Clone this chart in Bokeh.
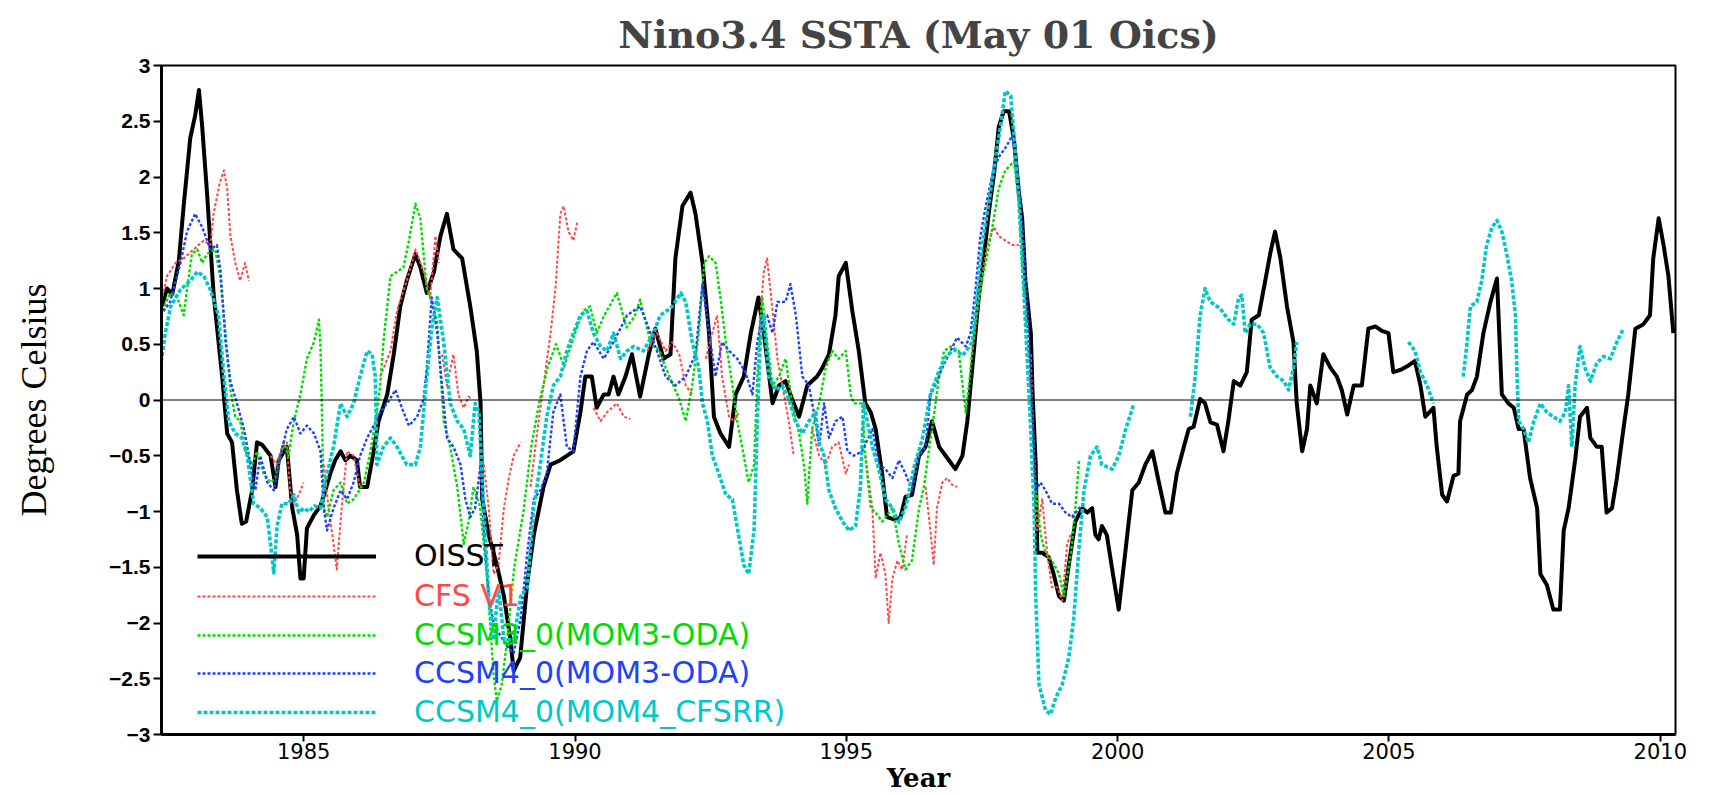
import math
from bokeh.plotting import figure
from bokeh.models import Range1d, FixedTicker, Span, Legend, LegendItem
from bokeh.embed import file_html
from bokeh.resources import INLINE

NAN = float("nan")

TITLE = "Nino3.4 SSTA (May 01 Oics)"
X_LABEL = "Year"
Y_LABEL = "Degrees Celsius"
X_TICKS = [1985, 1990, 1995, 2000, 2005, 2010]
Y_TICKS = [-3.0, -2.5, -2.0, -1.5, -1.0, -0.5, 0.0, 0.5, 1.0, 1.5, 2.0, 2.5, 3.0]
Y_TICK_LABELS = ["\u22123", "\u22122.5", "\u22122", "\u22121.5", "\u22121", "\u22120.5",
                 "0", "0.5", "1", "1.5", "2", "2.5", "3"]
SERIES_NAMES = ["OISST", "CFS V1", "CCSM3_0(MOM3-ODA)", "CCSM4_0(MOM3-ODA)", "CCSM4_0(MOM4_CFSRR)"]

# ---------------- OISST (observed) ----------------
OISST_YEAR = [
    1982.39, 1982.48, 1982.58, 1982.70, 1982.79, 1982.91, 1983.00, 1983.07, 1983.13, 1983.22,
    1983.34, 1983.50, 1983.59, 1983.68, 1983.77, 1983.86, 1983.94,
    1984.05, 1984.14, 1984.23, 1984.39, 1984.48, 1984.54, 1984.69, 1984.79, 1984.88, 1984.94,
    1985.00, 1985.06, 1985.19, 1985.31, 1985.40, 1985.49, 1985.58, 1985.68, 1985.77, 1985.86, 1985.98,
    1986.04, 1986.17, 1986.29, 1986.38, 1986.54, 1986.66, 1986.78, 1986.90, 1987.06, 1987.15,
    1987.27, 1987.40, 1987.52, 1987.64, 1987.76, 1987.92,
    1988.07, 1988.19, 1988.26, 1988.29, 1988.41, 1988.56, 1988.69, 1988.81, 1988.87, 1988.99,
    1989.12, 1989.24, 1989.42, 1989.55, 1989.73, 1989.97,
    1990.10, 1990.19, 1990.31, 1990.40, 1990.53, 1990.62, 1990.71, 1990.80, 1990.93, 1991.05,
    1991.20, 1991.36, 1991.48, 1991.63, 1991.76, 1991.85, 1991.98,
    1992.13, 1992.22, 1992.35, 1992.47, 1992.56, 1992.68, 1992.84, 1992.96, 1993.11, 1993.24,
    1993.38, 1993.48, 1993.64, 1993.76, 1993.88,
    1994.00, 1994.13, 1994.28, 1994.46, 1994.56, 1994.68, 1994.80, 1994.86, 1994.99, 1995.11,
    1995.23, 1995.35, 1995.45, 1995.54, 1995.66, 1995.75, 1995.88,
    1996.00, 1996.09, 1996.21, 1996.34, 1996.46, 1996.58, 1996.71, 1996.83, 1997.01, 1997.14,
    1997.23, 1997.29, 1997.35, 1997.44, 1997.54, 1997.63, 1997.72, 1997.81, 1997.90,
    1998.00, 1998.09, 1998.18, 1998.24, 1998.30, 1998.40, 1998.43, 1998.49, 1998.52, 1998.61,
    1998.73, 1998.82, 1998.92, 1999.01, 1999.10, 1999.22, 1999.35, 1999.44, 1999.53, 1999.59,
    1999.65, 1999.71, 1999.80, 1999.90,
    2000.02, 2000.14, 2000.27, 2000.39, 2000.51, 2000.64, 2000.76, 2000.88, 2000.98, 2001.09,
    2001.22, 2001.31, 2001.40, 2001.52, 2001.61, 2001.71, 2001.83, 2001.95,
    2002.04, 2002.14, 2002.26, 2002.38, 2002.47, 2002.60, 2002.72, 2002.81, 2002.90, 2003.00,
    2003.12, 2003.24, 2003.30, 2003.40, 2003.49, 2003.55, 2003.67, 2003.79, 2003.92,
    2004.04, 2004.13, 2004.23, 2004.35, 2004.50, 2004.62, 2004.75, 2004.87, 2004.99, 2005.08,
    2005.21, 2005.36, 2005.48, 2005.58, 2005.67, 2005.82, 2005.88, 2005.98,
    2006.07, 2006.19, 2006.28, 2006.31, 2006.44, 2006.53, 2006.62, 2006.74, 2006.87, 2006.99,
    2007.08, 2007.20, 2007.30, 2007.39, 2007.48, 2007.60, 2007.73, 2007.79, 2007.91,
    2008.03, 2008.15, 2008.22, 2008.31, 2008.43, 2008.52, 2008.65, 2008.71, 2008.83, 2008.92,
    2009.01, 2009.11, 2009.20, 2009.32, 2009.41, 2009.54, 2009.69, 2009.81, 2009.87, 2009.97,
    2010.06, 2010.15, 2010.24,
]
OISST_VAL = [
    0.84, 1.00, 0.95, 1.25, 1.75, 2.35, 2.55, 2.78, 2.45, 1.85,
    0.95, 0.20, -0.30, -0.38, -0.81, -1.11, -1.09,
    -0.81, -0.38, -0.40, -0.50, -0.78, -0.54, -0.42, -0.97, -1.21, -1.60,
    -1.60, -1.15, -1.03, -0.95, -0.81, -0.66, -0.54, -0.46, -0.54, -0.50, -0.54,
    -0.78, -0.78, -0.46, -0.19, 0.05, 0.41, 0.84, 1.07, 1.31, 1.19,
    0.96, 1.15, 1.47, 1.67, 1.35, 1.27,
    0.84, 0.44, -0.03, -0.89, -1.21, -1.48, -1.76, -2.15, -2.43, -2.31,
    -1.64, -1.21, -0.78, -0.58, -0.54, -0.46,
    -0.11, 0.21, 0.21, -0.07, 0.05, 0.05, 0.21, 0.05, 0.21, 0.41,
    0.03, 0.41, 0.64, 0.37, 0.41, 1.27, 1.74,
    1.86, 1.67, 1.23, 0.60, -0.15, -0.30, -0.42, 0.05, 0.21, 0.60,
    0.92, 0.60, -0.03, 0.13, 0.17,
    0.01, -0.15, 0.13, 0.21, 0.29, 0.41, 0.76, 1.11, 1.23, 0.80,
    0.44, -0.03, -0.11, -0.26, -0.66, -1.05, -1.07,
    -1.05, -0.87, -0.85, -0.50, -0.42, -0.19, -0.42, -0.50, -0.62, -0.50,
    -0.19, 0.13, 0.44, 0.92, 1.31, 1.70, 2.02, 2.45, 2.59,
    2.59, 2.33, 1.86, 1.63, 1.07, 0.60, 0.09, -0.58, -1.37, -1.37,
    -1.41, -1.56, -1.76, -1.80, -1.48, -1.09, -0.97, -1.01, -0.97, -1.21,
    -1.25, -1.13, -1.21, -1.52,
    -1.88, -1.37, -0.81, -0.74, -0.58, -0.46, -0.74, -1.01, -1.01, -0.66,
    -0.42, -0.26, -0.24, 0.01, -0.03, -0.20, -0.22, -0.46,
    -0.19, 0.17, 0.13, 0.25, 0.72, 0.76, 1.07, 1.31, 1.51, 1.27,
    0.84, 0.52, -0.03, -0.46, -0.26, 0.13, -0.03, 0.41, 0.29,
    0.21, 0.09, -0.13, 0.13, 0.13, 0.64, 0.66, 0.62, 0.60, 0.25,
    0.27, 0.31, 0.35, 0.13, -0.15, -0.07, -0.42, -0.85,
    -0.91, -0.68, -0.66, -0.19, 0.05, 0.09, 0.21, 0.60, 0.88, 1.09,
    0.05, -0.03, -0.07, -0.26, -0.26, -0.70, -0.97, -1.56, -1.66,
    -1.88, -1.88, -1.17, -0.97, -0.54, -0.15, -0.07, -0.34, -0.42, -0.42,
    -1.01, -0.97, -0.70, -0.26, 0.05, 0.64, 0.68, 0.76, 1.27, 1.63,
    1.39, 1.11, 0.60,
]

# ---------------- CFS V1 (segments separated by NaN) ----------------
CFS_YEAR = [
    1982.36, 1982.48, 1982.64, 1982.79, 1982.97, 1983.16, 1983.28, 1983.34, 1983.45, 1983.53,
    1983.59, 1983.65, 1983.74, 1983.83, 1983.92, 1983.99, NAN,
    1984.39, 1984.50, 1984.60, 1984.69, 1984.75, 1984.82, 1984.91, 1985.00, NAN,
    1985.37, 1985.46, 1985.55, 1985.61, 1985.70, 1985.80, 1985.92, 1986.04, NAN,
    1986.41, 1986.60, 1986.72, 1986.90, 1987.06, 1987.21, 1987.33, 1987.43, 1987.49, NAN,
    1987.55, 1987.64, 1987.76, 1987.85, 1987.95, 1988.04, 1988.10, NAN,
    1988.32, 1988.41, 1988.50, 1988.59, 1988.69, 1988.78, 1988.87, 1989.00, NAN,
    1989.18, 1989.30, 1989.42, 1989.55, 1989.64, 1989.73, 1989.79, 1989.88, 1989.97, 1990.04, NAN,
    1990.34, 1990.47, 1990.59, 1990.77, 1990.90, 1991.02, NAN,
    1991.33, 1991.51, 1991.67, 1991.79, 1991.92, 1992.04, 1992.16, NAN,
    1992.41, 1992.53, 1992.62, 1992.71, 1992.84, 1992.93, 1993.02, NAN,
    1993.39, 1993.48, 1993.54, 1993.64, 1993.73, 1993.82, 1993.94, 1994.03, NAN,
    1994.37, 1994.50, 1994.62, 1994.74, 1994.86, 1994.99, 1995.05, NAN,
    1995.35, 1995.48, 1995.54, 1995.63, 1995.72, 1995.78, 1995.85, 1995.94, 1996.03, 1996.12, NAN,
    1996.46, 1996.55, 1996.61, 1996.67, 1996.77, 1996.86, 1996.95, 1997.04, NAN,
    1997.32, 1997.41, 1997.50, 1997.60, 1997.72, 1997.81, 1997.93, 1998.06, 1998.18, NAN,
    1998.40, 1998.46, 1998.52, 1998.61, 1998.70, 1998.79, 1998.89, 1998.98, 1999.07, 1999.13,
]
CFS_VAL = [
    0.84, 1.11, 1.23, 1.27, 1.35, 1.43, 1.39, 1.67, 1.94, 2.06,
    1.90, 1.47, 1.23, 1.07, 1.23, 1.07, NAN,
    -0.50, -0.58, -0.42, -0.38, -0.81, -0.93, -0.85, -0.74, NAN,
    -0.58, -0.97, -1.29, -1.52, -0.97, -0.46, -0.50, -0.78, NAN,
    0.21, 0.44, 0.80, 1.07, 1.35, 1.15, 0.92, 1.47, 1.23, NAN,
    0.41, 0.13, 0.41, 0.05, -0.07, 0.03, 0.00, NAN,
    -0.58, -0.97, -1.56, -1.48, -0.97, -0.70, -0.50, -0.38, NAN,
    -0.78, -0.30, 0.13, 0.60, 1.00, 1.67, 1.74, 1.51, 1.43, 1.59, NAN,
    -0.07, -0.19, -0.11, -0.03, -0.15, -0.17, NAN,
    0.44, 0.60, 0.44, 0.52, 0.41, 0.13, 0.05, NAN,
    0.37, 0.60, 0.76, 0.21, -0.15, -0.19, -0.11, NAN,
    0.60, 1.15, 1.27, 0.80, 0.37, 0.13, -0.19, -0.50, NAN,
    -0.26, -0.50, -0.58, -0.42, -0.38, -0.66, -0.58, NAN,
    -0.50, -0.97, -1.60, -1.37, -1.56, -2.00, -1.60, -1.44, -1.52, -1.20, NAN,
    -0.78, -1.17, -1.48, -0.97, -0.74, -0.70, -0.76, -0.78, NAN,
    0.41, 0.76, 1.11, 1.39, 1.55, 1.47, 1.43, 1.39, 1.39, NAN,
    0.41, -0.58, -1.17, -0.89, -1.37, -1.68, -1.68, -1.80, -1.29, -1.21,
]

# ---------------- CCSM3_0 (MOM3-ODA) ----------------
CCSM3_YEAR = [
    1982.36, 1982.54, 1982.67, 1982.79, 1982.85, 1982.94, 1983.04, 1983.13, 1983.22, 1983.37,
    1983.46, 1983.56, 1983.65, 1983.74, 1983.83, 1983.93, 1984.05, 1984.14, 1984.26, 1984.39,
    1984.48, 1984.63, 1984.72, 1984.82, 1984.94, 1985.06, 1985.19, 1985.28, 1985.31, 1985.34,
    1985.37, 1985.43, 1985.55, 1985.68, 1985.80, 1985.92, 1986.11, 1986.23, 1986.35, 1986.41,
    1986.47, 1986.60, 1986.72, 1986.84, 1986.94, 1987.06, 1987.15, 1987.21, 1987.27, 1987.36,
    1987.46, 1987.58, 1987.70, 1987.83, 1987.95, 1988.04, 1988.13, 1988.25, 1988.38, 1988.50,
    1988.56, 1988.65, 1988.75, 1988.88, 1989.05, 1989.20, 1989.35, 1989.50, 1989.65, 1989.80,
    1990.00, 1990.15, 1990.28, 1990.40, 1990.53, 1990.77, 1990.95, 1991.10, 1991.20, 1991.40,
    1991.55, 1991.67, 1991.92, 1992.04, 1992.16, 1992.28, 1992.38, 1992.47, 1992.59, 1992.68,
    1992.78, 1992.90, 1992.99, 1993.08, 1993.20, 1993.30, 1993.36, 1993.45, 1993.54, 1993.64,
    1993.76, 1993.88, 1994.00, 1994.13, 1994.22, 1994.28, 1994.37, 1994.50, 1994.62, 1994.74,
    1994.86, 1994.99, 1995.08, 1995.14, 1995.29, 1995.35, 1995.45, 1995.54, 1995.66, 1995.85,
    1995.97, 1996.09, 1996.21, 1996.34, 1996.43, 1996.52, 1996.61, 1996.71, 1996.80, 1996.92,
    1997.07, 1997.20, 1997.26, 1997.35, 1997.47, 1997.60, 1997.72, 1997.81, 1997.93, 1998.09,
    1998.18, 1998.27, 1998.36, 1998.43, 1998.49, 1998.58, 1998.67, 1998.79, 1998.92, 1999.01,
    1999.14, 1999.22, 1999.29,
]
CCSM3_VAL = [
    0.76, 0.96, 0.92, 0.76, 0.99, 1.31, 1.35, 1.23, 1.31, 1.35,
    1.11, 0.60, 0.09, -0.15, -0.19, -0.46, -0.58, -0.46, -0.66, -0.74,
    -0.70, -0.38, -0.50, -0.19, 0.05, 0.37, 0.52, 0.72, 0.48, -0.19,
    -0.97, -1.05, -0.81, -0.74, -0.93, -0.89, -0.74, -0.46, -0.11, 0.13,
    0.52, 1.11, 1.15, 1.19, 1.43, 1.76, 1.63, 1.31, 0.99, 0.88,
    0.70, -0.19, -0.42, -0.78, -1.29, -1.09, -0.78, -0.95, -1.60, -2.47,
    -2.70, -2.55, -2.15, -1.50, -1.00, -0.40, 0.00, 0.30, 0.50, 0.30,
    0.60, 0.80, 0.84, 0.60, 0.75, 0.96, 0.65, 0.75, 0.90, 0.50,
    0.45, 0.29, 0.01, -0.19, 0.13, 0.60, 1.23, 1.29, 1.23, 0.92,
    0.52, 0.13, -0.19, -0.42, -0.74, -0.58, 0.21, 0.92, 0.52, 0.13,
    0.21, 0.37, -0.03, -0.30, -0.58, -0.93, -0.26, -0.03, 0.29, 0.44,
    0.37, 0.44, 0.05, -0.03, -0.03, -0.50, -0.97, -1.01, -1.09, -0.97,
    -1.29, -1.52, -1.44, -0.97, -0.78, -0.46, -0.15, 0.21, 0.44, 0.48,
    0.44, -0.11, 0.13, 0.60, 0.99, 1.31, 1.63, 1.90, 2.06, 2.14,
    1.78, 0.99, 0.44, -0.19, -0.78, -1.21, -1.37, -1.44, -1.56, -1.76,
    -1.37, -0.97, -0.54,
]

# ---------------- CCSM4_0 (MOM3-ODA) ----------------
CCSM4O_YEAR = [
    1982.36, 1982.54, 1982.73, 1982.85, 1983.00, 1983.13, 1983.28, 1983.40, 1983.47, 1983.56,
    1983.65, 1983.77, 1983.90, 1984.02, 1984.11, 1984.20, 1984.33, 1984.45, 1984.57, 1984.69,
    1984.82, 1984.94, 1985.06, 1985.19, 1985.31, 1985.37, 1985.43, 1985.55, 1985.68, 1985.80,
    1985.92, 1986.04, 1986.17, 1986.29, 1986.41, 1986.54, 1986.69, 1986.81, 1986.94, 1987.09,
    1987.21, 1987.27, 1987.36, 1987.46, 1987.55, 1987.64, 1987.76, 1987.89, 1987.98, 1988.07,
    1988.16, 1988.26, 1988.32, 1988.41, 1988.50, 1988.62, 1988.78, 1988.87, 1989.00, 1989.12,
    1989.24, 1989.36, 1989.48, 1989.60, 1989.73, 1989.85, 1989.97, 1990.10, 1990.22, 1990.34,
    1990.53, 1990.71, 1990.96, 1991.20, 1991.33, 1991.51, 1991.67, 1991.85, 1992.04, 1992.22,
    1992.35, 1992.47, 1992.59, 1992.71, 1992.84, 1992.99, 1993.14, 1993.27, 1993.36, 1993.45,
    1993.54, 1993.64, 1993.73, 1993.88, 1993.97, 1994.07, 1994.19, 1994.31, 1994.43, 1994.50,
    1994.59, 1994.68, 1994.80, 1994.93, 1995.02, 1995.14, 1995.29, 1995.48, 1995.60, 1995.72,
    1995.85, 1995.97, 1996.09, 1996.21, 1996.34, 1996.46, 1996.55, 1996.64, 1996.77, 1996.89,
    1997.04, 1997.20, 1997.29, 1997.38, 1997.47, 1997.57, 1997.69, 1997.81, 1997.93, 1998.06,
    1998.18, 1998.27, 1998.36, 1998.43, 1998.49, 1998.58, 1998.67, 1998.79, 1998.92, 1999.04,
    1999.16, 1999.29, 1999.38,
]
CCSM4O_VAL = [
    0.76, 0.88, 1.23, 1.51, 1.67, 1.55, 1.35, 1.39, 1.15, 0.52,
    0.17, -0.03, -0.26, -0.58, -0.81, -0.50, -0.74, -0.81, -0.50, -0.26,
    -0.15, -0.30, -0.23, -0.30, -0.46, -0.97, -1.17, -0.97, -0.81, -0.89,
    -0.74, -0.50, -0.34, -0.23, -0.11, -0.03, 0.09, -0.07, -0.23, -0.15,
    0.01, 0.29, 0.92, 0.60, 0.13, -0.34, -0.42, -0.58, -0.89, -1.05,
    -0.97, -0.58, -1.17, -1.76, -2.00, -2.11, -2.23, -2.27, -1.96, -1.37,
    -0.89, -0.81, -0.66, -0.11, 0.05, -0.42, -0.46, 0.21, 0.44, 0.52,
    0.37, 0.52, 0.76, 0.84, 0.68, 0.44, 0.21, 0.13, 0.21, 0.41,
    1.04, 0.60, 0.21, 0.52, 0.44, 0.37, 0.25, 0.05, 0.52, 0.76,
    0.76, 0.60, 0.88, 0.88, 1.04, 0.76, 0.21, 0.13, -0.19, -0.42,
    -0.03, -0.34, -0.19, -0.15, -0.46, -0.50, -0.46, -0.26, -0.58, -0.62,
    -0.70, -0.54, -0.66, -0.81, -0.50, -0.42, 0.05, 0.13, 0.29, 0.41,
    0.56, 0.48, 0.60, 0.99, 1.47, 1.74, 2.02, 2.18, 2.26, 2.37,
    1.94, 1.39, 0.60, -0.19, -0.81, -0.74, -0.81, -0.93, -0.93, -1.01,
    -1.05, -0.97, -0.93,
]

# ---------------- CCSM4_0 (MOM4_CFSRR) ----------------
CCSM4C_YEAR = [
    1982.36, 1982.45, 1982.55, 1982.73, 1982.91, 1983.04, 1983.16, 1983.28, 1983.43, 1983.53,
    1983.62, 1983.74, 1983.86, 1983.96, 1984.08, 1984.20, 1984.33, 1984.45, 1984.51, 1984.60,
    1984.72, 1984.82, 1984.91, 1985.00, 1985.10, 1985.20, 1985.31, 1985.43, 1985.55, 1985.68,
    1985.80, 1985.92, 1986.04, 1986.17, 1986.26, 1986.32, 1986.35, 1986.47, 1986.60, 1986.72,
    1986.90, 1987.06, 1987.15, 1987.27, 1987.36, 1987.46, 1987.58, 1987.70, 1987.83, 1987.95,
    1988.07, 1988.16, 1988.23, 1988.32, 1988.41, 1988.50, 1988.59, 1988.69, 1988.87, 1989.00,
    1989.12, 1989.24, 1989.36, 1989.48, 1989.60, 1989.73, 1989.85, 1989.97, 1990.10, 1990.22,
    1990.34, 1990.47, 1990.59, 1990.71, 1990.84, 1990.96, 1991.08, 1991.26, 1991.45, 1991.57,
    1991.69, 1991.79, 1991.95, 1992.04, 1992.16, 1992.28, 1992.35, 1992.44, 1992.53, 1992.65,
    1992.78, 1992.90, 1993.00, 1993.11, 1993.20, 1993.30, 1993.36, 1993.42, 1993.48, 1993.57,
    1993.70, 1993.82, 1993.94, 1994.06, 1994.19, 1994.31, 1994.43, 1994.50, 1994.59, 1994.68,
    1994.80, 1994.93, 1995.05, 1995.17, 1995.26, 1995.32, 1995.48, 1995.60, 1995.72, 1995.85,
    1995.97, 1996.10, 1996.25, 1996.40, 1996.55, 1996.70, 1996.85, 1997.00, 1997.15, 1997.32,
    1997.41, 1997.50, 1997.63, 1997.75, 1997.84, 1997.93, 1998.03, 1998.09, 1998.18, 1998.27,
    1998.33, 1998.39, 1998.46, 1998.49, 1998.55, 1998.67, 1998.76, 1998.86, 1998.98, 1999.10,
    1999.19, 1999.28, 1999.38, 1999.50, 1999.62, 1999.71, 1999.90, 2000.02, 2000.15, 2000.30, NAN,
    2001.34, 2001.43, 2001.52, 2001.61, 2001.71, 2001.89, 2002.04, 2002.14, 2002.23, 2002.29,
    2002.35, 2002.44, 2002.57, 2002.69, 2002.81, 2002.94, 2003.06, 2003.15, 2003.24, 2003.30, NAN,
    2005.36, 2005.48, 2005.58, 2005.70, 2005.82, NAN,
    2006.37, 2006.44, 2006.50, 2006.62, 2006.71, 2006.80, 2006.90, 2006.99, 2007.08, 2007.17,
    2007.26, 2007.33, 2007.36, 2007.39, 2007.48, 2007.57, 2007.67, 2007.79, 2007.91, 2008.03,
    2008.15, 2008.25, 2008.31, 2008.37, 2008.43, 2008.52, 2008.61, 2008.71, 2008.83, 2008.95,
    2009.08, 2009.20, 2009.32,
]
CCSM4C_VAL = [
    0.29, 0.60, 0.84, 0.99, 1.07, 1.15, 1.11, 0.99, 0.76, 0.21,
    -0.19, -0.30, -0.34, -0.50, -0.93, -0.97, -1.05, -1.55, -1.13, -0.93,
    -0.93, -0.85, -1.01, -0.97, -1.00, -0.95, -0.97, -0.66, -0.42, -0.03,
    -0.15, -0.03, 0.21, 0.44, 0.41, 0.21, -0.58, -0.42, -0.34, -0.42,
    -0.58, -0.58, -0.42, 0.21, 0.64, 0.92, 0.52, -0.03, -0.19, -0.26,
    -0.50, -0.03, -0.11, -0.97, -1.76, -2.15, -1.68, -2.15, -2.15, -1.76,
    -1.68, -0.97, -0.58, -0.15, 0.13, 0.21, 0.44, 0.60, 0.76, 0.80,
    0.60, 0.48, 0.44, 0.60, 0.37, 0.44, 0.48, 0.44, 0.60, 0.76,
    0.80, 0.84, 0.96, 0.88, 0.52, 0.29, -0.03, -0.19, -0.50, -0.66,
    -0.85, -0.89, -1.17, -1.48, -1.56, -1.17, -0.19, 0.60, 0.76, 0.21,
    0.09, 0.13, 0.01, -0.19, -0.30, -0.19, -0.11, -0.38, -0.50, -0.81,
    -0.97, -1.09, -1.17, -1.13, -0.78, -0.03, -0.42, -0.62, -0.89, -0.97,
    -1.10, -0.95, -0.60, -0.35, 0.05, 0.25, 0.40, 0.45, 0.40, 0.52,
    0.92, 1.39, 1.78, 2.18, 2.45, 2.77, 2.73, 2.37, 1.78, 0.99,
    0.41, -0.19, -0.97, -1.76, -2.55, -2.78, -2.82, -2.67, -2.55, -2.31,
    -1.96, -1.37, -0.81, -0.50, -0.42, -0.58, -0.62, -0.50, -0.26, -0.03, NAN,
    -0.15, 0.21, 0.76, 1.00, 0.88, 0.82, 0.72, 0.68, 0.92, 0.94,
    0.60, 0.68, 0.68, 0.60, 0.29, 0.21, 0.17, 0.09, 0.29, 0.52, NAN,
    0.52, 0.44, 0.25, 0.13, -0.03, NAN,
    0.21, 0.52, 0.84, 0.88, 1.07, 1.39, 1.55, 1.61, 1.51, 1.31,
    1.07, 0.76, 0.21, -0.19, -0.26, -0.38, -0.19, -0.03, -0.11, -0.15,
    -0.19, -0.11, 0.13, -0.42, 0.13, 0.48, 0.29, 0.17, 0.33, 0.39,
    0.37, 0.52, 0.64,
]

for _a, _b in [(OISST_YEAR, OISST_VAL), (CFS_YEAR, CFS_VAL), (CCSM3_YEAR, CCSM3_VAL),
               (CCSM4O_YEAR, CCSM4O_VAL), (CCSM4C_YEAR, CCSM4C_VAL)]:
    assert len(_a) == len(_b), (len(_a), len(_b))

# ---------------- styling ----------------
COLORS = ["#000000", "#ff4848", "#00dc00", "#2040ff", "#00c8c8"]
WIDTHS = [4.0, 2.0, 2.4, 2.4, 3.6]
DASHES = ["solid", "3 2", "3 2", "3 2", "4 2"]

p = figure(width=1717, height=795,
           x_range=Range1d(1982.38, 2010.28), y_range=Range1d(-3, 3),
           output_backend="svg", toolbar_location=None, title=TITLE,
           min_border_left=161, min_border_right=42, min_border_top=58, min_border_bottom=56)

p.background_fill_color = "white"
p.border_fill_color = "white"
p.outline_line_color = "black"
p.outline_line_width = 2
p.xgrid.visible = False
p.ygrid.visible = False

p.title.text_font = "DejaVu Serif"
p.title.text_font_size = "38px"
p.title.text_font_style = "bold"
p.title.text_line_height = 1.0
p.title.align = "center"
p.title.standoff = 18

p.xaxis.ticker = FixedTicker(ticks=X_TICKS)
p.yaxis.ticker = FixedTicker(ticks=Y_TICKS)
p.yaxis.major_label_overrides = {float(t): s for t, s in zip(Y_TICKS, Y_TICK_LABELS)}

for ax in (p.xaxis[0], p.yaxis[0]):
    ax.axis_line_width = 3
    ax.axis_line_color = "black"
    ax.major_tick_in = 0
    ax.major_tick_line_width = 2
    ax.minor_tick_line_color = None
    ax.major_label_text_color = "black"
    ax.axis_label_text_color = "black"

p.xaxis.major_tick_out = 7
p.xaxis.major_label_standoff = 1
p.xaxis.major_label_text_font = "DejaVu Sans"
p.xaxis.major_label_text_font_size = "21px"
p.xaxis.major_label_text_line_height = 1.0
p.xaxis.axis_label = X_LABEL
p.xaxis.axis_label_text_font = "DejaVu Serif"
p.xaxis.axis_label_text_font_style = "bold"
p.xaxis.axis_label_text_font_size = "26px"
p.xaxis.axis_label_text_line_height = 1.0
p.xaxis.axis_label_standoff = 1

p.yaxis.major_tick_out = 8
p.yaxis.major_label_standoff = 3
p.yaxis.major_label_text_font = "Liberation Sans"
p.yaxis.major_label_text_font_style = "bold"
p.yaxis.major_label_text_font_size = "21px"
p.yaxis.axis_label = Y_LABEL
p.yaxis.axis_label_text_font = "Liberation Serif"
p.yaxis.axis_label_text_font_style = "normal"
p.yaxis.axis_label_text_font_size = "36px"
p.yaxis.axis_label_standoff = 52

p.add_layout(Span(location=0, dimension="width", line_color="black", line_width=1))

series = [(OISST_YEAR, OISST_VAL), (CFS_YEAR, CFS_VAL), (CCSM3_YEAR, CCSM3_VAL),
          (CCSM4O_YEAR, CCSM4O_VAL), (CCSM4C_YEAR, CCSM4C_VAL)]
renderers = []
for (xs, ys), c, w, d in zip(series, COLORS, WIDTHS, DASHES):
    r = p.line(xs, ys, line_color=c, line_width=w, line_dash=d, line_join="round")
    renderers.append(r)

# one legend per entry so that each label takes its series colour
LEGEND_Y = [161, 121, 82, 44, 5]
for name, r, c, ly in zip(SERIES_NAMES, renderers, COLORS, LEGEND_Y):
    leg = Legend(items=[LegendItem(label=name, renderers=[r])], location=(36, ly),
                 glyph_width=179, glyph_height=30, label_height=30, label_standoff=38,
                 padding=0, margin=0, spacing=0,
                 border_line_alpha=0, background_fill_alpha=0,
                 label_text_color=c, label_text_font="DejaVu Sans",
                 label_text_font_size="30px")
    p.add_layout(leg)

open("out.html", "w").write(file_html(p, INLINE))
